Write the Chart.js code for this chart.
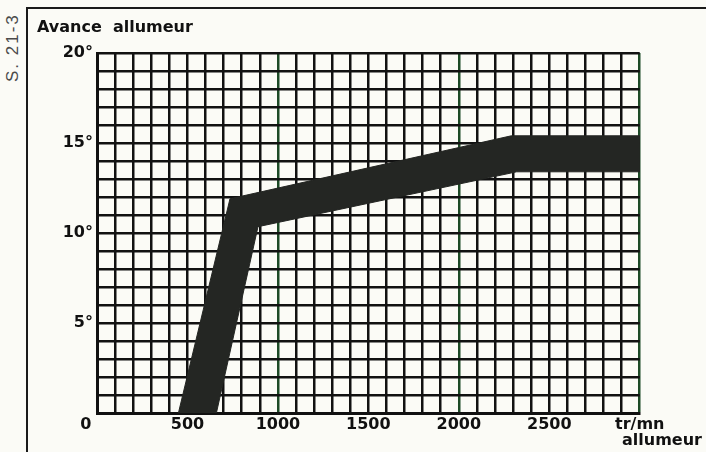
<!DOCTYPE html>
<html>
<head>
<meta charset="utf-8">
<script src="https://cdn.jsdelivr.net/npm/chart.js@4.4.1/dist/chart.umd.min.js"></script>
<style>
  body { margin: 0; background: #fbfbf6; }
  #wrap { position: relative; width: 706px; height: 452px; overflow: hidden; }
  #frame { position: absolute; left: 26px; top: 7px; right: 0; bottom: 0;
           border-top: 2px solid #1a1a1a; border-left: 2px solid #1a1a1a; }
  #side { position: absolute; left: 3px; top: 82px; transform-origin: left top;
          transform: rotate(-90deg); font: 17px "Liberation Sans", sans-serif;
          letter-spacing: 2px; color: #4a4a4a; white-space: nowrap; line-height: 20px; }
  canvas { position: absolute; left: 0; top: 0; }
</style>
</head>
<body>
<div id="wrap">
  <div id="frame"></div>
  <div id="side">S. 21-3</div>
  <canvas id="chart" width="706" height="452"></canvas>
</div>
<script>
// Avance allumeur (degrés) en fonction du régime allumeur (tr/mn)
const rpmLabels = [0, 500, 1000, 1500, 2000, 2500];
const degLabels = [5, 10, 15, 20];
const endLabel = ['tr/mn', 'allumeur'];

// bord haut/gauche de la bande
const upperRpm = [450, 735, 2290, 3000];
const upperDeg = [0, 11.9, 15.4, 15.4];
// bord bas/droit de la bande
const lowerRpm = [660, 890, 2320, 3000];
const lowerDeg = [0, 10.35, 13.4, 13.4];

const band = [];
upperRpm.forEach((r, i) => band.push({ x: r, y: upperDeg[i] }));
for (let i = lowerRpm.length - 1; i >= 0; i--) band.push({ x: lowerRpm[i], y: lowerDeg[i] });

const font = { family: '"DejaVu Sans", sans-serif', weight: 'bold', size: 16 };

const gridColor = ctx => {
    const v = ctx.tick && ctx.tick.value;
    if (v === 1000 || v === 2000 || v === 3000) return '#1d4a26';
    return '#111';
};

new Chart(document.getElementById('chart'), {
    type: 'scatter',
    data: {
        datasets: [{
            data: band,
            showLine: true,
            fill: 'shape',
            backgroundColor: '#242623',
            borderColor: '#242623',
            borderWidth: 1,
            pointRadius: 0,
            tension: 0
        }]
    },
    options: {
        responsive: false,
        animation: false,
        layout: { padding: { left: 37, top: 18, right: 66, bottom: 0 } },
        plugins: {
            legend: { display: false },
            tooltip: { enabled: false },
            title: {
                display: true,
                text: 'Avance  allumeur',
                align: 'start',
                color: '#111',
                font: font,
                padding: { top: 0, bottom: 15.8 }
            }
        },
        scales: {
            x: {
                type: 'linear',
                min: 0,
                max: 3000,
                afterFit: s => { s.height = 39; },
                border: { display: true, color: '#111', width: 3 },
                grid: { color: gridColor, lineWidth: 2.5, drawTicks: false },
                ticks: {
                    stepSize: 100,
                    autoSkip: false,
                    maxRotation: 0,
                    padding: 4,
                    color: '#111',
                    font: Object.assign({}, font, { lineHeight: 1.0 }),
                    callback: v => {
                        if (v === 0) return '0    ';
                        if (v === 3000) return [endLabel[0], '        ' + endLabel[1]];
                        return rpmLabels.includes(v) ? String(v) : '';
                    }
                }
            },
            y: {
                min: 0,
                max: 20,
                afterFit: s => { s.width = 60; },
                border: { display: true, color: '#111', width: 3 },
                grid: { color: '#111', lineWidth: 2.5, drawTicks: false },
                ticks: {
                    stepSize: 1,
                    autoSkip: false,
                    padding: 4,
                    color: '#111',
                    font: font,
                    callback: v => degLabels.includes(v) ? v + '°' : ''
                }
            }
        }
    }
});
</script>
</body>
</html>
